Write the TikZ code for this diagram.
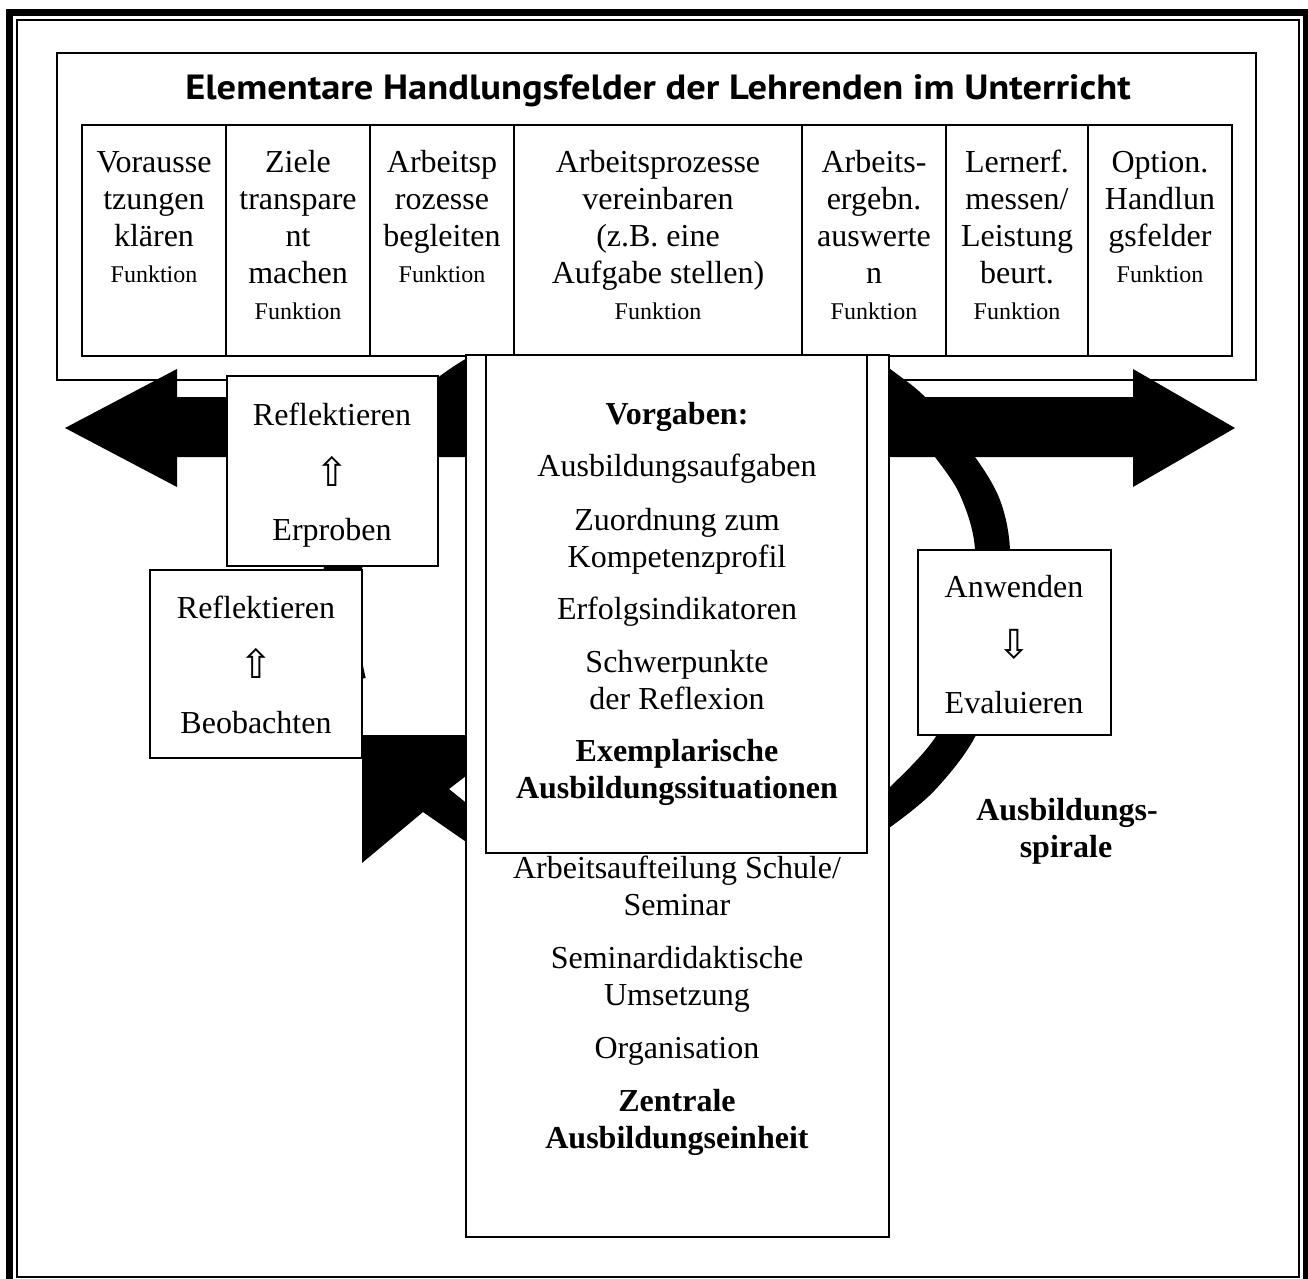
\documentclass[tikz,border=0pt]{standalone}
\usepackage{fontspec}
\setmainfont{Liberation Serif}
\newfontfamily\titlefont{PT Sans}[FakeStretch=1.1]
\newfontfamily\symfont{DejaVu Sans}
\usepackage{tikz}
\usetikzlibrary{calc}

\begin{document}
\begin{tikzpicture}[x=0.5pt,y=-0.5pt]
\path [use as bounding box] (0,0) rectangle (1308,1279);
\clip (0,0) rectangle (1308,1279);
\tikzstyle{box} = [draw, fill=white, line width=1pt]
\tikzstyle{txt} = [anchor=base, inner sep=0pt, font=\fontsize{16}{18}\selectfont]
\tikzstyle{btxt} = [anchor=base, inner sep=0pt, font=\fontsize{16}{18}\selectfont\bfseries]
\tikzstyle{fkt} = [anchor=base, inner sep=0pt, font=\fontsize{12}{14}\selectfont]
\tikzstyle{sym} = [anchor=center, inner sep=0pt, font=\symfont\fontsize{20}{22}\selectfont]
% page border
\draw[line width=3.5pt] (9.5,12.5) rectangle (1306.5,1284);
\draw[line width=1pt] (17,20) rectangle (1299,1277);
\draw[line width=1pt] (57,53) rectangle (1256,380);
% double arrow
\fill (65,428) -- (177,369) -- (177,397) -- (1133,397) -- (1133,369) -- (1235,428)
  -- (1133,487) -- (1133,457) -- (177,457) -- (177,487) -- cycle;
% spiral
\coordinate (S) at (618,615);
\fill (S) ++(245:298) arc[start angle=245, end angle=166, radius=298]
  -- ++(166:-38) arc[start angle=166, end angle=245, radius=260] -- cycle;
\fill plot[smooth] coordinates {(855,340) (889,368) (925,397) (975,457) (1000,500) (1010,550)
  (1006,640) (977,733) (935,790) (889,828) (855,848)}
  -- plot[smooth] coordinates {(855,815) (889,788) (938,733) (968,650) (975,550) (960,495)
  (935,457) (905,420) (870,390)} -- cycle;
\fill (362,735) -- (475,735) -- (475,769) -- (449,789) -- (475,810) -- (475,848)
  -- (423,812) -- (362,863) -- cycle;
% table
\draw[box] (82,125) rectangle (1232,356);
\foreach \x in {226,370,514,802,946,1088} \draw[line width=1pt] (\x,125) -- (\x,356);
\node[anchor=base, inner sep=0pt, font=\titlefont\bfseries\fontsize{17.5}{20}\selectfont] (title) at (658,100)
  {Elementare Handlungsfelder der Lehrenden im Unterricht};
\foreach \t [count=\i] in {Vorausse,tzungen,klären} \node[txt] (a\i) at (154,136+37*\i) {\t};
\foreach \t [count=\i] in {Ziele,transpare,nt,machen} \node[txt] (b\i) at (298,136+37*\i) {\t};
\foreach \t [count=\i] in {Arbeitsp,rozesse,begleiten} \node[txt] (c\i) at (442,136+37*\i) {\t};
\foreach \t [count=\i] in {Arbeitsprozesse,vereinbaren,{(z.B. eine},{Aufgabe stellen)}} \node[txt] (d\i) at (658,136+37*\i) {\t};
\foreach \t [count=\i] in {Arbeits-,ergebn.,auswerte,n} \node[txt] (e\i) at (874,136+37*\i) {\t};
\foreach \t [count=\i] in {Lernerf.,{messen/},Leistung,beurt.} \node[txt] (f\i) at (1017,136+37*\i) {\t};
\foreach \t [count=\i] in {Option.,Handlun,gsfelder} \node[txt] (g\i) at (1160,136+37*\i) {\t};
\node[fkt] (fa) at (154,283) {Funktion};
\node[fkt] (fb) at (298,320) {Funktion};
\node[fkt] (fc) at (442,283) {Funktion};
\node[fkt] (fd) at (658,320) {Funktion};
\node[fkt] (fe) at (874,320) {Funktion};
\node[fkt] (ff) at (1017,320) {Funktion};
\node[fkt] (fg) at (1160,283) {Funktion};
% central unit
\draw[box] (466,355) rectangle (889,1237);
\draw[box] (486,355) rectangle (867,853);
\node[btxt] (vorg) at (677,424) {Vorgaben:};
\foreach \y/\t [count=\i] in {476/Ausbildungsaufgaben,530/Zuordnung zum,567/Kompetenzprofil,
  619/Erfolgsindikatoren,672/Schwerpunkte,709/der Reflexion} \node[txt] (v\i) at (677,\y) {\t};
\node[btxt] (ex1) at (677,761) {Exemplarische};
\node[btxt] (ex2) at (677,798) {Ausbildungssituationen};
\foreach \y/\t [count=\i] in {878/{Arbeitsaufteilung Schule/},915/Seminar,968/Seminardidaktische,
  1005/Umsetzung,1058/Organisation} \node[txt] (z\i) at (677,\y) {\t};
\node[btxt] (ze1) at (677,1111) {Zentrale};
\node[btxt] (ze2) at (677,1148) {Ausbildungseinheit};
% side boxes
\draw[box] (227,376) rectangle (438,566);
\node[txt] (re1) at (332,425) {Reflektieren};
\node[sym] (up1) at (332,471) {⇧};
\node[txt] (erp) at (332,540) {Erproben};
\draw[box] (150,570) rectangle (362,758);
\node[txt] (re2) at (256,618) {Reflektieren};
\node[sym] (up2) at (256,663) {⇧};
\node[txt] (beo) at (256,733) {Beobachten};
\draw[box] (918,550) rectangle (1111,735);
\node[txt] (anw) at (1014,597) {Anwenden};
\node[sym] (dn) at (1014,644) {⇩};
\node[txt] (eva) at (1014,713) {Evaluieren};
\node[btxt] (sp1) at (1067,820) {Ausbildungs-};
\node[btxt] (sp2) at (1066,857) {spirale};
\end{tikzpicture}
\end{document}
